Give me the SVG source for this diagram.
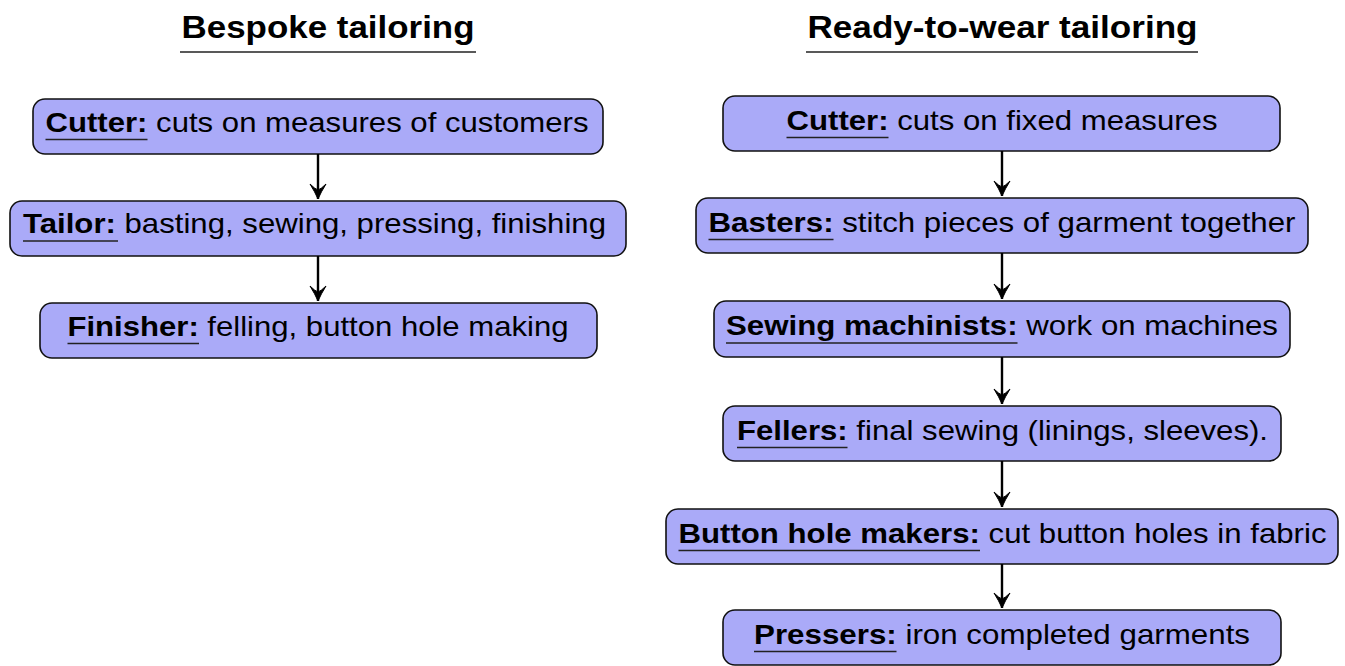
<svg xmlns="http://www.w3.org/2000/svg" width="1345" height="666" viewBox="0 0 1345 666">
<style>
text{font-family:"Liberation Sans",Arial,Helvetica,sans-serif;fill:#000}
.t{font-size:32px;font-weight:bold}
.l{font-size:28px}
.b{font-weight:bold}
.box{fill:#aaaaf8;stroke:#111;stroke-width:1.6}
.ul{stroke:#222;stroke-width:1.4}
.tul{stroke:#222;stroke-width:1.6}
.arr{stroke:#000;stroke-width:2.4;fill:none;marker-end:url(#ah)}
</style>
<defs>
<marker id="ah" markerUnits="userSpaceOnUse" markerWidth="20" markerHeight="20" refX="0" refY="0" orient="auto" overflow="visible">
<path d="M0,0 Q-7,-3 -15,-8 Q-10,-3 -9,0 Q-10,3 -15,8 Q-7,3 0,0 Z" fill="#000" stroke="#000" stroke-width="1" stroke-linejoin="round"/>
</marker>
</defs>
<g id="title-bespoke">
<text class="t" x="181.5" y="38" textLength="293" lengthAdjust="spacingAndGlyphs">Bespoke tailoring</text>
<line class="tul" x1="180" y1="52" x2="476" y2="52"/>
</g>
<g id="title-rtw">
<text class="t" x="807.5" y="38" textLength="390" lengthAdjust="spacingAndGlyphs">Ready-to-wear tailoring</text>
<line class="tul" x1="806" y1="52" x2="1198" y2="52"/>
</g>
<g id="b-cutter">
<rect class="box" x="33" y="99" width="570" height="55" rx="12"/>
<text class="l" x="45.5" y="132" textLength="543" lengthAdjust="spacingAndGlyphs"><tspan class="b">Cutter:</tspan> cuts on measures of customers</text>
<line class="ul" x1="45.5" y1="139.5" x2="147.5" y2="139.5"/>
</g>
<g id="b-tailor">
<rect class="box" x="10" y="201" width="616" height="55" rx="12"/>
<text class="l" x="23" y="233" textLength="583" lengthAdjust="spacingAndGlyphs"><tspan class="b">Tailor:</tspan> basting, sewing, pressing, finishing</text>
<line class="ul" x1="23" y1="241" x2="118" y2="241"/>
</g>
<g id="b-finisher">
<rect class="box" x="40" y="303" width="557" height="55" rx="12"/>
<text class="l" x="67.5" y="336" textLength="501" lengthAdjust="spacingAndGlyphs"><tspan class="b">Finisher:</tspan> felling, button hole making</text>
<line class="ul" x1="67.5" y1="343.5" x2="199" y2="343.5"/>
</g>
<g id="r-cutter">
<rect class="box" x="723" y="96" width="557" height="55" rx="12"/>
<text class="l" x="786.5" y="130" textLength="431" lengthAdjust="spacingAndGlyphs"><tspan class="b">Cutter:</tspan> cuts on fixed measures</text>
<line class="ul" x1="786.5" y1="137.5" x2="888.5" y2="137.5"/>
</g>
<g id="r-basters">
<rect class="box" x="696" y="198" width="612" height="55" rx="12"/>
<text class="l" x="708.5" y="232" textLength="587" lengthAdjust="spacingAndGlyphs"><tspan class="b">Basters:</tspan> stitch pieces of garment together</text>
<line class="ul" x1="708.5" y1="239.5" x2="833.5" y2="239.5"/>
</g>
<g id="r-sewing">
<rect class="box" x="714" y="301" width="576" height="56" rx="12"/>
<text class="l" x="726" y="335" textLength="552" lengthAdjust="spacingAndGlyphs"><tspan class="b">Sewing machinists:</tspan> work on machines</text>
<line class="ul" x1="726" y1="343" x2="1017.5" y2="343"/>
</g>
<g id="r-fellers">
<rect class="box" x="723" y="406" width="558" height="55" rx="12"/>
<text class="l" x="737" y="440" textLength="531" lengthAdjust="spacingAndGlyphs"><tspan class="b">Fellers:</tspan> final sewing (linings, sleeves).</text>
<line class="ul" x1="737" y1="447.5" x2="847.5" y2="447.5"/>
</g>
<g id="r-buttonhole">
<rect class="box" x="666" y="509" width="672" height="55" rx="12"/>
<text class="l" x="678.5" y="543" textLength="648" lengthAdjust="spacingAndGlyphs"><tspan class="b">Button hole makers:</tspan> cut button holes in fabric</text>
<line class="ul" x1="678.5" y1="550.5" x2="980" y2="550.5"/>
</g>
<g id="r-pressers">
<rect class="box" x="723" y="610" width="558" height="55" rx="12"/>
<text class="l" x="754" y="644" textLength="496" lengthAdjust="spacingAndGlyphs"><tspan class="b">Pressers:</tspan> iron completed garments</text>
<line class="ul" x1="754" y1="651.5" x2="896.5" y2="651.5"/>
</g>
<g id="connectors">
<line class="arr" x1="318" y1="154" x2="318" y2="199"/>
<line class="arr" x1="318" y1="256" x2="318" y2="301"/>
<line class="arr" x1="1002" y1="151" x2="1002" y2="196"/>
<line class="arr" x1="1002" y1="253" x2="1002" y2="299"/>
<line class="arr" x1="1002" y1="357" x2="1002" y2="404"/>
<line class="arr" x1="1002" y1="461" x2="1002" y2="507"/>
<line class="arr" x1="1002" y1="564" x2="1002" y2="608"/>
</g>
</svg>
